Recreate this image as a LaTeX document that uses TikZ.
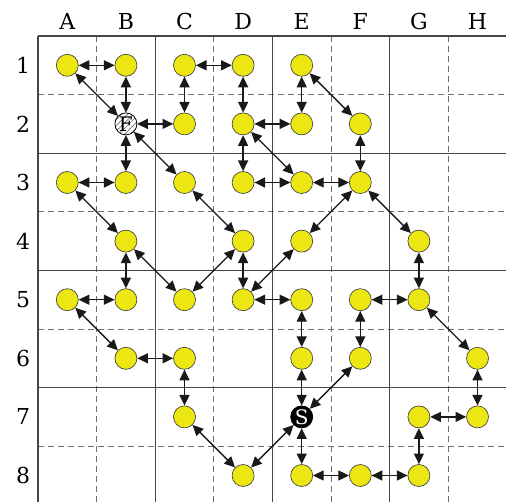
\documentclass[tikz,border=0pt]{standalone}
\usepackage{fontspec}
\newfontfamily\labfont{DejaVu Serif}
\usetikzlibrary{arrows.meta,patterns.meta}
\definecolor{dotyellow}{RGB}{236,230,18}
\definecolor{gridsolid}{RGB}{70,70,70}
\definecolor{griddash}{RGB}{110,110,110}
\begin{document}
\begin{tikzpicture}[x=0.75pt,y=-0.75pt,
  dot/.style={circle,draw=black!75,line width=0.5pt,fill=dotyellow,minimum size=16.5pt,inner sep=0pt},
  link/.style={{Triangle[length=8pt,width=7.5pt]}-{Triangle[length=8pt,width=7.5pt]},line width=1pt,draw=black!90},
  solidline/.style={draw=gridsolid,line width=1pt},
  dashline/.style={draw=griddash,line width=0.7pt,dash pattern=on 4.5pt off 3pt},
  lab/.style={font=\labfont\fontsize{16.5}{19}\selectfont},
  special/.style={circle,line width=0.6pt,minimum size=16.5pt,inner sep=0pt,
    font=\labfont\fontsize{15}{16}\selectfont}]
\useasboundingbox (0,0) rectangle (506,502);
% grid
\foreach \k in {1,3,5,7} {
  \draw[dashline] ({38+\k*58.6},36) -- ({38+\k*58.6},506);
  \draw[dashline] (38,{36+\k*58.6}) -- (507,{36+\k*58.6});
}
\foreach \k in {0,2,4,6,8} {
  \draw[solidline] ({38+\k*58.6},36) -- ({38+\k*58.6},506);
  \draw[solidline] (38,{36+\k*58.6}) -- (507,{36+\k*58.6});
}
% labels
\foreach \t [count=\i] in {A,B,C,D,E,F,G,H}
  \node[lab] (col\t) at ({38+(\i-0.5)*58.6},21) {\t};
\foreach \i in {1,...,8}
  \node[lab] (row\i) at (23,{36+(\i-0.5)*58.6}) {\i};
% nodes
\foreach \n/\c/\r in {A1/1/1,B1/2/1,C1/3/1,D1/4/1,E1/5/1,
  C2/3/2,D2/4/2,E2/5/2,F2/6/2,
  A3/1/3,B3/2/3,C3/3/3,D3/4/3,E3/5/3,F3/6/3,
  B4/2/4,D4/4/4,E4/5/4,G4/7/4,
  A5/1/5,B5/2/5,C5/3/5,D5/4/5,E5/5/5,F5/6/5,G5/7/5,
  B6/2/6,C6/3/6,E6/5/6,F6/6/6,H6/8/6,
  C7/3/7,G7/7/7,H7/8/7,
  D8/4/8,E8/5/8,F8/6/8,G8/7/8}
  \node[dot] (\n) at ({38+(\c-0.5)*58.6},{36+(\r-0.5)*58.6}) {};
\node[special,draw=black,preaction={fill=white},
  pattern={Lines[angle=45,distance=3pt,line width=0.35pt]},pattern color=black!70]
  (B2) at ({38+1.5*58.6},{36+1.5*58.6}) {F};
\node[special,draw=black,fill=black,text=white] (E7) at ({38+4.5*58.6},{36+6.5*58.6}) {S};
% edges
\foreach \a/\b in {A1/B1,A1/B2,B1/B2,C1/D1,C1/C2,D1/D2,B2/C2,B2/B3,B2/C3,
  D2/E2,D2/D3,D2/E3,E1/E2,E1/F2,F2/F3,A3/B3,D3/E3,E3/F3,F3/E4,F3/G4,
  A3/B4,C3/D4,B4/B5,B4/C5,D4/C5,D4/D5,E4/D5,G4/G5,A5/B5,D5/E5,E5/E6,
  F5/G5,F5/F6,G5/H6,A5/B6,B6/C6,C6/C7,E6/E7,F6/E7,H6/H7,G7/H7,C7/D8,
  E7/D8,E7/E8,G7/G8,E8/F8,F8/G8}
  \draw[link] (\a) -- (\b);
\end{tikzpicture}
\end{document}
